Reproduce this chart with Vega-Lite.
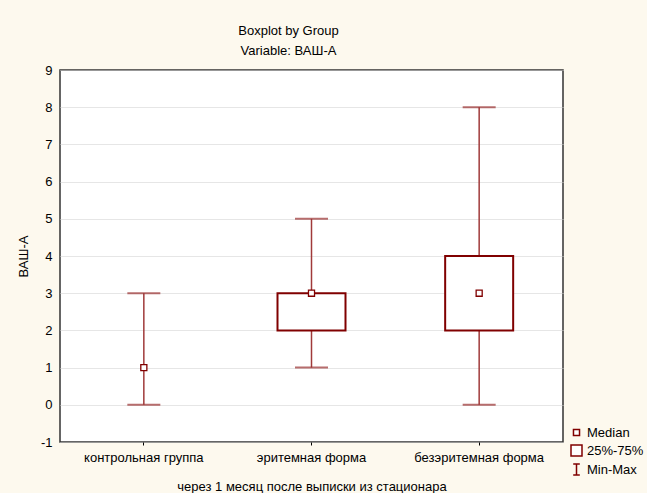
{
  "$schema": "https://vega.github.io/schema/vega-lite/v6.json",
  "width": 503,
  "height": 372,
  "autosize": {"type": "none"},
  "padding": {"left": 60, "top": 70, "right": 84, "bottom": 51},
  "background": "#FDF9EE",
  "title": {
    "text": ["Boxplot by Group", "Variable: ВАШ-А"],
    "anchor": "middle",
    "baseline": "bottom",
    "offset": -7,
    "dx": -23,
    "lineHeight": 20,
    "font": "Liberation Sans",
    "fontSize": 13,
    "fontWeight": "normal",
    "color": "#000000"
  },
  "config": {
    "view": {"fill": "white", "stroke": "#333333", "strokeWidth": 1.5},
    "font": "Liberation Sans",
    "axis": {
      "labelFont": "Liberation Sans",
      "titleFont": "Liberation Sans",
      "labelFontSize": 13,
      "titleFontSize": 13,
      "titleFontWeight": "normal",
      "labelColor": "#000000",
      "titleColor": "#000000",
      "gridColor": "#CCCCCC",
      "gridDash": [1, 1],
      "gridWidth": 1,
      "domain": false
    },
    "axisY": {
      "title": "ВАШ-А",
      "values": [-1, 0, 1, 2, 3, 4, 5, 6, 7, 8, 9],
      "labelExpr": "toString(datum.value)",
      "labelOverlap": false,
      "ticks": false,
      "labelPadding": 8,
      "titlePadding": 10,
      "grid": true
    },
    "legend": {
      "labelFont": "Liberation Sans",
      "labelFontSize": 13,
      "labelColor": "#000000"
    }
  },
  "data": {
    "values": [
      {"group": "контрольная группа", "min": 0, "max": 3, "q1": null, "q3": null, "median": 1, "legend": "Median"},
      {"group": "эритемная форма", "min": 1, "max": 5, "q1": 2, "q3": 3, "median": 3, "legend": "Median"},
      {"group": "безэритемная форма", "min": 0, "max": 8, "q1": 2, "q3": 4, "median": 3, "legend": "Median"}
    ]
  },
  "encoding": {
    "x": {
      "field": "group",
      "type": "nominal",
      "sort": null,
      "scale": {"paddingInner": 0, "paddingOuter": 0},
      "axis": {
        "title": "через 1 месяц после выписки из стационара",
        "labelAngle": 0,
        "tickSize": 3,
        "tickColor": "#000000",
        "labelPadding": 6,
        "titlePadding": 16,
        "grid": false
      }
    }
  },
  "layer": [
    {
      "mark": {"type": "rule", "color": "#A03A3A", "strokeWidth": 1.5},
      "encoding": {
        "y": {
          "field": "min",
          "type": "quantitative",
          "title": "ВАШ-А",
          "scale": {"domain": [-1, 9], "nice": false, "zero": false},
          "axis": {"values": [-1, 0, 1, 2, 3, 4, 5, 6, 7, 8, 9], "labelOverlap": false}
        },
        "y2": {"field": "max"}
      }
    },
    {
      "mark": {"type": "tick", "color": "#992F2F", "size": 33, "thickness": 2},
      "encoding": {"y": {"field": "min", "type": "quantitative", "title": "ВАШ-А", "axis": {"values": [-1, 0, 1, 2, 3, 4, 5, 6, 7, 8, 9], "labelOverlap": false}}}
    },
    {
      "mark": {"type": "tick", "color": "#992F2F", "size": 33, "thickness": 2},
      "encoding": {"y": {"field": "max", "type": "quantitative", "title": "ВАШ-А", "axis": {"values": [-1, 0, 1, 2, 3, 4, 5, 6, 7, 8, 9], "labelOverlap": false}}}
    },
    {
      "mark": {"type": "bar", "width": 68, "fill": "white", "stroke": "#800000", "strokeWidth": 2},
      "encoding": {
        "y": {"field": "q1", "type": "quantitative", "title": "ВАШ-А", "axis": {"values": [-1, 0, 1, 2, 3, 4, 5, 6, 7, 8, 9], "labelOverlap": false}},
        "y2": {"field": "q3"}
      }
    },
    {
      "mark": {"type": "point", "filled": false, "fill": "white", "fillOpacity": 1, "stroke": "#800000", "strokeWidth": 1.3, "size": 121, "opacity": 1},
      "encoding": {
        "y": {"field": "median", "type": "quantitative", "title": "ВАШ-А", "axis": {"values": [-1, 0, 1, 2, 3, 4, 5, 6, 7, 8, 9], "labelOverlap": false}},
        "shape": {
          "field": "legend",
          "type": "nominal",
          "scale": {
            "domain": ["Median", "25%-75%", "Min-Max"],
            "range": ["M-0.55,-0.55H0.55V0.55H-0.55Z", "M-1,-1H1V1H-1Z", "M-0.6,-1H0.6M0,-1V1M-0.6,1H0.6"]
          },
          "legend": {
            "title": null,
            "orient": "none",
            "legendX": 510,
            "legendY": 356,
            "symbolSize": 121,
            "rowPadding": 2,
            "labelOffset": 4,
            "encode": {
              "symbols": {
                "update": {
                  "stroke": {"value": "#800000"},
                  "strokeWidth": {"value": 1.6},
                  "fill": {"value": "transparent"},
                  "opacity": {"value": 1},
                  "strokeOpacity": {"value": 1}
                }
              }
            }
          }
        }
      }
    }
  ]
}
